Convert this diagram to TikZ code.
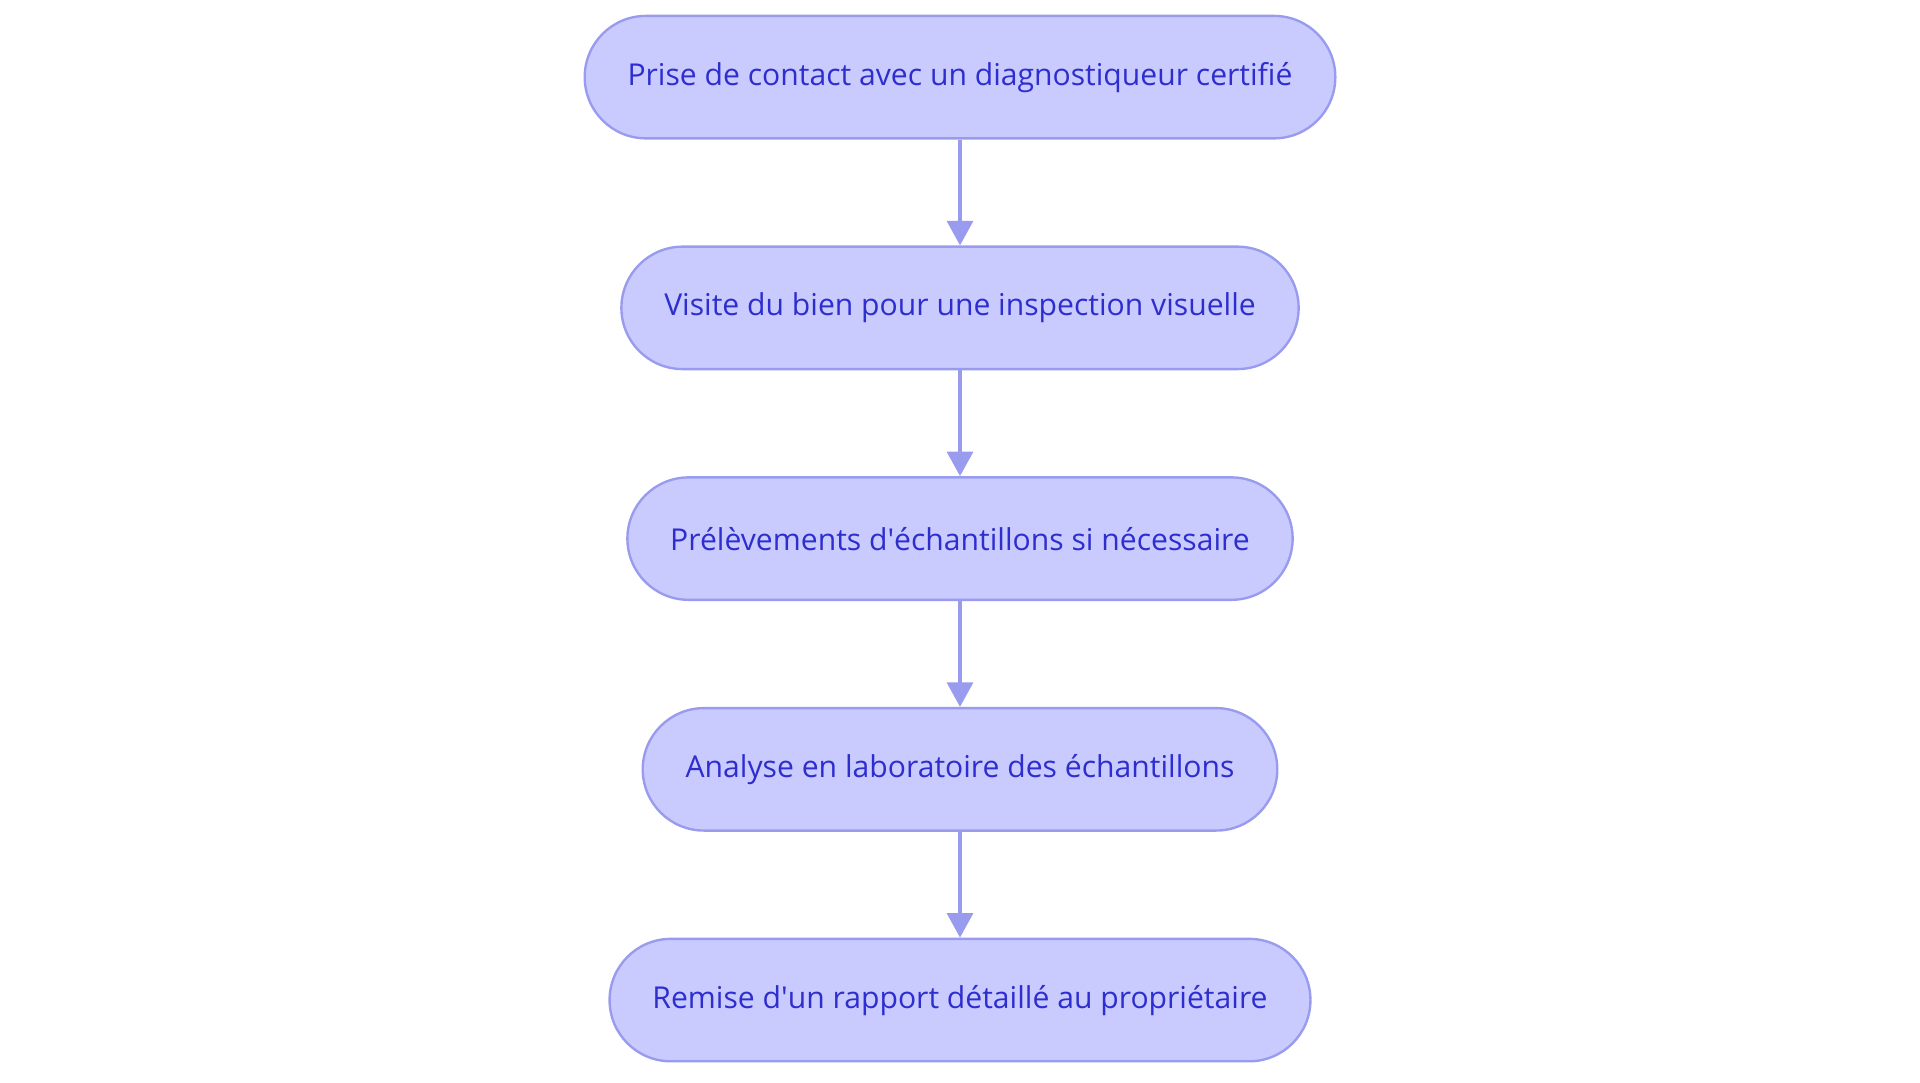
\documentclass[tikz,border=0pt]{standalone}
\usepackage{fontspec}
\setmainfont{Open Sans}
\usetikzlibrary{positioning,arrows.meta}
\definecolor{stepfill}{HTML}{C9CAFE}
\definecolor{stepline}{HTML}{989BEE}
\definecolor{steptext}{HTML}{2E2ECF}
\tikzset{
	stage/.style={draw=stepline,line width=1.1pt,fill=stepfill,rounded corners=1cm,
		minimum height=2cm,inner xsep=0.7cm,text=steptext,font=\fontsize{14}{17}\selectfont},
	flow/.style={draw=stepline,line width=1.8pt,-{Triangle[length=0.4cm,width=0.42cm]}}
}
\begin{document}
\begin{tikzpicture}[node distance=1.73cm]
	\useasboundingbox (0,0) rectangle (31.36,-17.68);
	%STEPS
	\node[stage] (contact) at (15.68,-1.26) {Prise de contact avec un diagnostiqueur certifié};
	\node[stage,below=of contact] (visite) {Visite du bien pour une inspection visuelle};
	\node[stage,below=of visite] (prelev) {Prélèvements d\textquotesingle échantillons si nécessaire};
	\node[stage,below=of prelev] (analyse) {Analyse en laboratoire des échantillons};
	\node[stage,below=of analyse] (rapport) {Remise d\textquotesingle un rapport détaillé au propriétaire};
	%ARROWS
	\draw[flow] (contact) -- (visite);
	\draw[flow] (visite) -- (prelev);
	\draw[flow] (prelev) -- (analyse);
	\draw[flow] (analyse) -- (rapport);
\end{tikzpicture}
\end{document}
